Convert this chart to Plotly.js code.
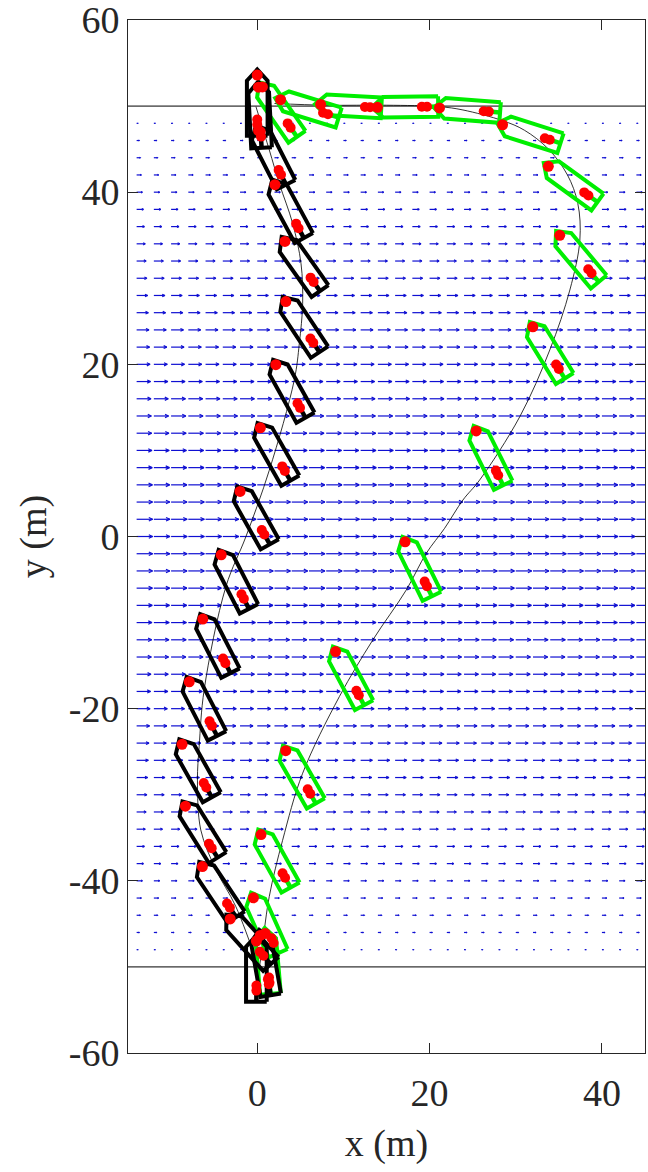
<!DOCTYPE html>
<html><head><meta charset="utf-8">
<script src="https://cdn.plot.ly/plotly-3.0.1.min.js"></script>
<style>body{margin:0;background:#fff}#chart{width:648px;height:1172px}</style>
</head><body><div id="chart"></div>
<script>
// ---------- data ----------
// current field grid (m) and per-row current magnitude (m, arrow length)
const flowX = [-14,-12,-10,-8,-6,-4,-2,0,2,4,6,8,10,12,14,16,18,20,22,24,26,28,30,32,34,36,38,40,42,44];
const flowY = [-48,-46,-44,-42,-40,-38,-36,-34,-32,-30,-28,-26,-24,-22,-20,-18,-16,-14,-12,-10,-8,-6,-4,-2,0,
               2,4,6,8,10,12,14,16,18,20,22,24,26,28,30,32,34,36,38,40,42,44,46,48];
const flowSpeed = [0.15,0.29,0.42,0.55,0.67,0.79,0.90,1.00,1.10,1.19,1.28,1.36,1.43,1.50,1.56,1.62,1.67,1.71,1.75,1.78,1.81,1.83,1.85,1.86,1.86,
                   1.86,1.85,1.83,1.81,1.78,1.75,1.71,1.67,1.62,1.56,1.50,1.43,1.36,1.28,1.19,1.10,1.00,0.90,0.79,0.67,0.55,0.42,0.29,0.15];

// channel boundaries
const boundaryY = [-50, 50];

// black vessel: reference trajectory and snapshots (centre x, centre y, heading deg from +x)
const blackPathX = [0.3,-2.48,-4.8,-6.55,-6.94,-6.74,-6.16,-3.64,-1.31,1.4,4.3,4.88,5.27,5.08,4.1,2.56,1.4,-0.15];
const blackPathY = [-50.5,-43.0,-38.7,-34.1,-28.3,-24.4,-17.8,-5.83,0,7.7,18.2,22.4,27.1,31.7,36.4,41.0,44.9,49.93];
const blackX   = [-0.1, 0.9, -1.0, -4.59, -6.64, -7.16, -6.43, -4.86, -2.72, -0.43, 1.94, 3.72, 5.09, 5.06, 3.58, 1.6, 0.3, 0.0];
const blackY   = [-50.2,-49.5,-46.8,-41.01,-34.04,-26.93,-19.73,-12.44,-4.97,2.45,9.84,17.17,24.63,31.66,38.06,44.3,49.0,50.4];
const blackHdg = [90, 100, 132, 123.7, 122.0, 119.3, 117.2, 117.1, 117.2, 119.3, 119.6, 119.2, 123.6, 125.3, 118.4, 117, 93, 90];

// green vessel
const greenPathX = [0.2,0.62,1.4,2.94,5.27,9.53,13.41,17.29,19.62,21.74,23.87,25.81,30.47,33.95,36.28,37.44,37.2,36.0,33.8,31.0,28.5,23.87,21.16,15,8,2];
const greenPathY = [-50.5,-47.3,-41.8,-35.3,-27.5,-18.6,-12.02,-6.22,-1.95,0.95,4.24,6.56,13.92,21.67,28.64,34.44,38.7,42.0,45.0,47.2,48.3,49.55,49.93,50.1,50.1,50.3];
const greenX   = [1.2, 0.86, 1.99, 4.89, 10.59, 18.57, 26.83, 33.66, 37.16, 36.37, 31.52, 24.34, 17.15, 10.55, 5.77, 2.42];
const greenY   = [-49.3,-44.89,-37.42,-27.66,-16.19,-3.49,9.40,21.63,32.53,41.12,46.86,49.55,49.90,50.01,49.80,49.59];
const greenHdg = [95, 114.1, 119.1, 119.7, 118.0, 116.2, 116.4, 121.7, 130.0, 144.0, 162.3, 175.7, 180.7, 176.8, 162.9, 124.7];

const xTicks = [0, 20, 40];
const yTicks = [-60, -40, -20, 0, 20, 40, 60];

// ---------- drawing ----------
const FONT = 'Liberation Serif, DejaVu Serif, serif';
const TXT = '#262626';
// hull outline in body frame (u forward, v to port), metres
const HULL_U = [-3.85, 2.55, 3.85, 2.55, -3.85, -3.85];
const HULL_V = [-1.2, -1.2, 0, 1.2, 1.2, -1.2];

function toWorld(cx, cy, hdg, u, v) {
  const a = hdg * Math.PI / 180;
  return [cx + u * Math.cos(a) - v * Math.sin(a), cy + u * Math.sin(a) + v * Math.cos(a)];
}

function hullTrace(xs, ys, hs, color) {
  const X = [], Y = [];
  xs.forEach((cx, i) => {
    for (let k = 0; k < HULL_U.length; k++) {
      const p = toWorld(cx, ys[i], hs[i], HULL_U[k], HULL_V[k]);
      X.push(p[0]); Y.push(p[1]);
    }
    X.push(null); Y.push(null);
  });
  return {type: 'scatter', mode: 'lines', x: X, y: Y, hoverinfo: 'skip',
          line: {color: color, width: 4}, showlegend: false};
}
function sternTrace(xs, ys, hs, color) {
  const X = [], Y = [];
  xs.forEach((cx, i) => {
    const p1 = toWorld(cx, ys[i], hs[i], -2.9, 0);
    const p2 = toWorld(cx, ys[i], hs[i], -3.8, 0);
    X.push(p1[0], p2[0], null); Y.push(p1[1], p2[1], null);
  });
  return {type: 'scatter', mode: 'lines', x: X, y: Y, hoverinfo: 'skip',
          line: {color: color, width: 4.5}, showlegend: false};
}
function dotTrace(xs, ys, hs) {
  const X = [], Y = [], S = [];
  xs.forEach((cx, i) => {
    [[3.2, 11], [-1.95, 10], [-2.55, 10]].forEach(([u, s]) => {
      const p = toWorld(cx, ys[i], hs[i], u, 0);
      X.push(p[0]); Y.push(p[1]); S.push(s);
    });
  });
  return {type: 'scatter', mode: 'markers', x: X, y: Y, hoverinfo: 'skip',
          marker: {color: '#ff0000', size: S, opacity: 1, line: {width: 0}}, opacity: 1, showlegend: false};
}

// current arrows
const qx = [], qy = [];
flowY.forEach((y, r) => {
  const L = flowSpeed[r];
  flowX.forEach(x => {
    const tx = x + L;
    qx.push(x, tx, null, tx - 0.24 * L, tx, tx - 0.24 * L, null);
    qy.push(y, y, null, y + 0.1 * L + 0.02, y, y - 0.1 * L - 0.02, null);
  });
});

const traces = [
  {type: 'scatter', mode: 'lines', x: qx, y: qy, hoverinfo: 'skip', showlegend: false,
   line: {color: 'rgb(15,15,210)', width: 1.2}},
  {type: 'scatter', mode: 'lines', x: [-15, 45, null, -15, 45], y: [boundaryY[0], boundaryY[0], null, boundaryY[1], boundaryY[1]],
   hoverinfo: 'skip', showlegend: false, line: {color: '#000', width: 1}},
  {type: 'scatter', mode: 'lines', x: greenPathX, y: greenPathY, line: {color: '#000', width: 0.8, shape: 'spline'}, showlegend: false},
  {type: 'scatter', mode: 'lines', x: blackPathX, y: blackPathY, line: {color: '#000', width: 0.8, shape: 'spline'}, showlegend: false},
  hullTrace(greenX, greenY, greenHdg, '#00ee00'),
  sternTrace(greenX, greenY, greenHdg, '#00ee00'),
  hullTrace(blackX, blackY, blackHdg, '#000000'),
  sternTrace(blackX, blackY, blackHdg, '#000000'),
  dotTrace(greenX, greenY, greenHdg),
  dotTrace(blackX, blackY, blackHdg)
];

const axisCommon = {
  ticks: 'inside', ticklen: 10, tickwidth: 1, tickcolor: TXT,
  showline: true, linecolor: TXT, linewidth: 1, mirror: 'ticks',
  showgrid: false, zeroline: false, ticklabeloverflow: 'allow',
  tickfont: {family: FONT, size: 38, color: TXT}
};

const layout = {
  width: 648, height: 1172,
  margin: {l: 128, r: 3, t: 20, b: 119},
  paper_bgcolor: '#fff', plot_bgcolor: '#fff',
  showlegend: false,
  xaxis: Object.assign({}, axisCommon, {
    range: [-15, 45], tickvals: xTicks, ticktext: xTicks.map(String), ticklabelstandoff: 6,
    title: {text: 'x (m)', font: {family: FONT, size: 38, color: TXT}, standoff: 16}
  }),
  yaxis: Object.assign({}, axisCommon, {
    range: [-60, 60], tickvals: yTicks, ticktext: yTicks.map(v => (v < 0 ? '-' + Math.abs(v) : String(v))),
    title: {text: 'y (m)', font: {family: FONT, size: 38, color: TXT}, standoff: 10}
  })
};

Plotly.newPlot('chart', traces, layout, {staticPlot: true, displayModeBar: false});
</script>
</body></html>
